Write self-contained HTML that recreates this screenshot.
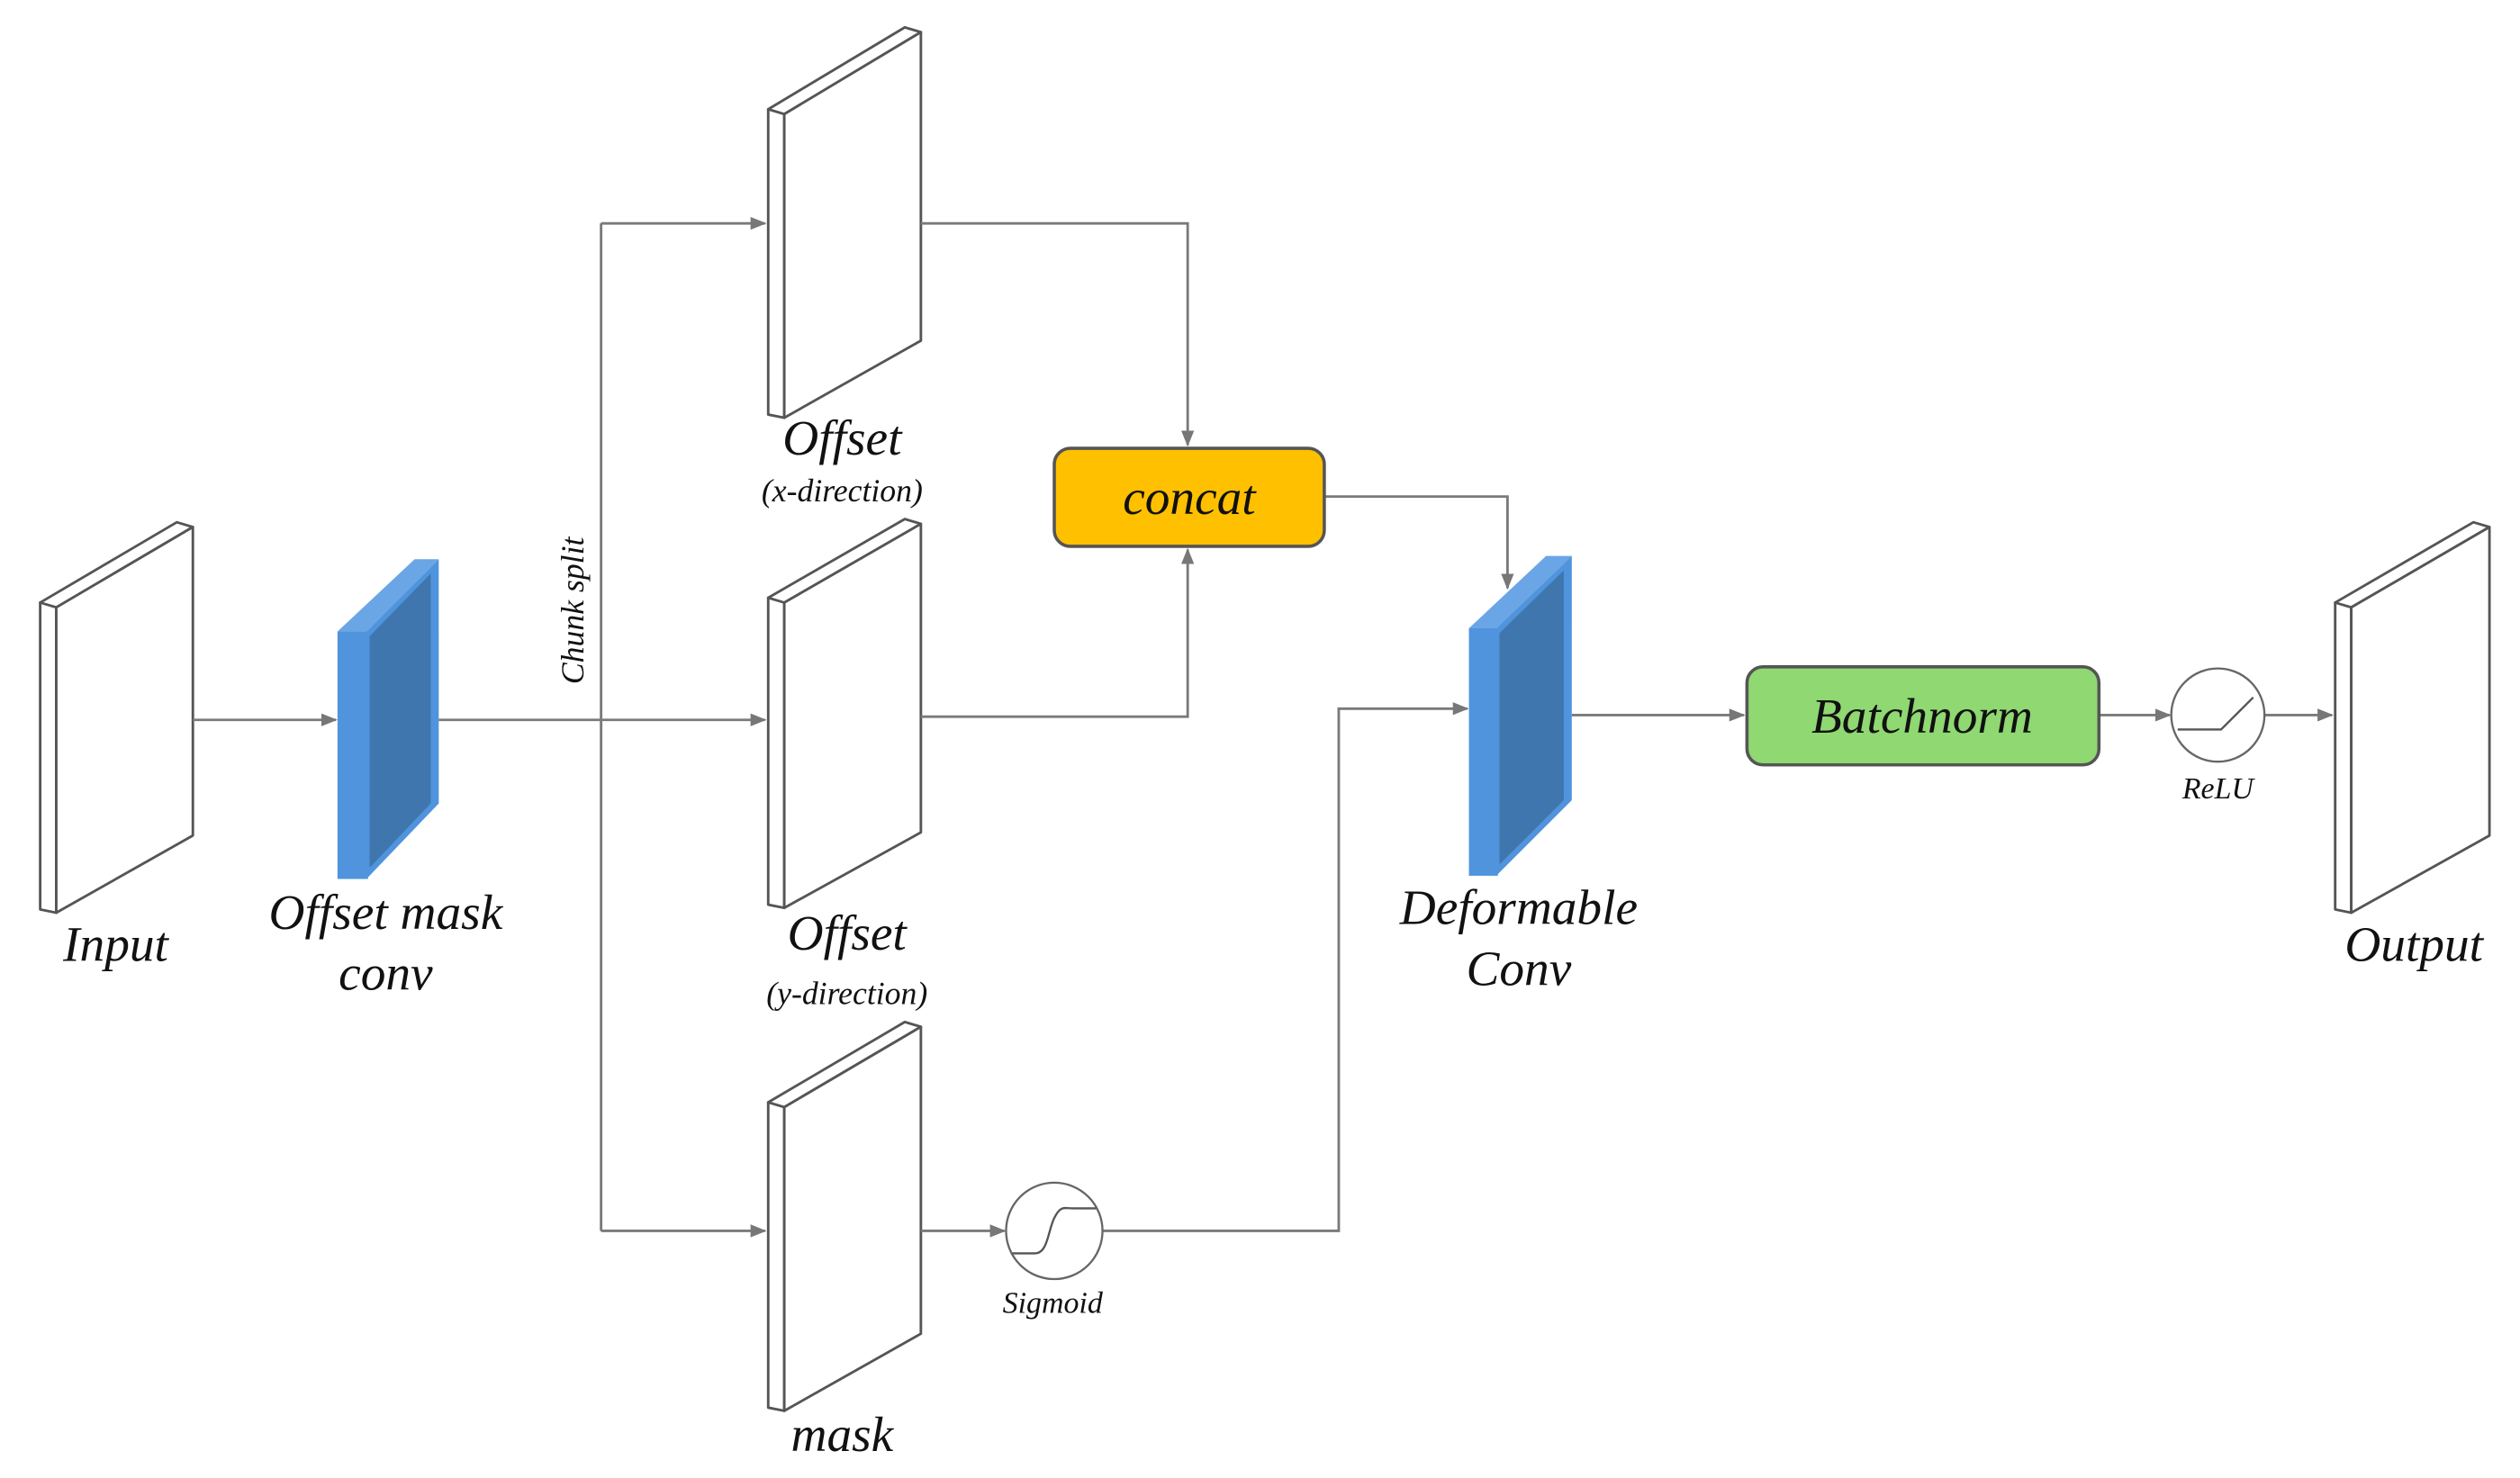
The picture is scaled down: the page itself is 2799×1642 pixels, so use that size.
<!DOCTYPE html>
<html><head><meta charset="utf-8"><style>html,body{margin:0;padding:0;background:#fff}svg{display:block}</style></head>
<body>
<svg width="2799" height="1642" viewBox="0 0 1568 919.8" preserveAspectRatio="none" xmlns="http://www.w3.org/2000/svg" font-family="Liberation Serif, serif" font-style="italic">
<defs>
<marker id="a" markerWidth="10" markerHeight="10" refX="9" refY="5" orient="auto" markerUnits="userSpaceOnUse">
<path d="M0,1 L10,5 L0,9 z" fill="#777"/></marker>
</defs>
<g fill="#fff" stroke="#555" stroke-width="1.6" stroke-linejoin="round">
<polygon points="25,375 35,375 35,568 25,566"/>
<polygon points="25,375 110,325 120,328 35,378"/>
<polygon points="35,378 120,328 120,520 35,568"/>
<polygon points="478,68 488,68 488,260 478,258"/>
<polygon points="478,68 563,17 573,20 488,71"/>
<polygon points="488,71 573,20 573,212 488,260"/>
<polygon points="478,372 488,372 488,565 478,563"/>
<polygon points="478,372 563,323 573,326 488,375"/>
<polygon points="488,375 573,326 573,518 488,565"/>
<polygon points="478,686 488,686 488,878 478,876"/>
<polygon points="478,686 563,636 573,639 488,689"/>
<polygon points="488,689 573,639 573,830 488,878"/>
<polygon points="1453,375 1463,375 1463,568 1453,566"/>
<polygon points="1453,375 1539,325 1549,328 1463,378"/>
<polygon points="1463,378 1549,328 1549,520 1463,568"/>
</g>
<g>
<polygon points="210,393 258,348 273,348 228,393" fill="#6aa6e6"/>
<rect x="210" y="393" width="19" height="154" fill="#4f94dc"/>
<polygon points="228,393 273,348 273,500 228,547" fill="#4f94dc"/>
<polygon points="230,396 268,357 268,500 230,540" fill="#3f76ad"/>
<polygon points="914,391 962,346 978,346 931,391" fill="#6aa6e6"/>
<rect x="914" y="391" width="18" height="154" fill="#4f94dc"/>
<polygon points="931,391 978,346 978,498 931,545" fill="#4f94dc"/>
<polygon points="933,394 973,355 973,498 933,538" fill="#3f76ad"/>
</g>
<g fill="none" stroke="#7a7a7a" stroke-width="1.6">
<line x1="120" y1="448" x2="209" y2="448" marker-end="url(#a)"/>
<line x1="273" y1="448" x2="476" y2="448" marker-end="url(#a)"/>
<line x1="374" y1="139" x2="374" y2="766"/>
<line x1="374" y1="139" x2="476" y2="139" marker-end="url(#a)"/>
<line x1="374" y1="766" x2="476" y2="766" marker-end="url(#a)"/>
<polyline points="573,139 739,139 739,277" marker-end="url(#a)"/>
<polyline points="573,446 739,446 739,342" marker-end="url(#a)"/>
<polyline points="824,309 938,309 938,366" marker-end="url(#a)"/>
<line x1="573" y1="766" x2="625" y2="766" marker-end="url(#a)"/>
<polyline points="686,766 833,766 833,441 913,441" marker-end="url(#a)"/>
<line x1="978" y1="445" x2="1085" y2="445" marker-end="url(#a)"/>
<line x1="1306" y1="445" x2="1350" y2="445" marker-end="url(#a)"/>
<line x1="1409" y1="445" x2="1451" y2="445" marker-end="url(#a)"/>
</g>
<circle cx="656" cy="766" r="30" fill="#fff" stroke="#666" stroke-width="1.3"/>
<path d="M630,780 L644,780 C652,780 652,766 656,758 C660,750 662,752 668,752 L682,752" fill="none" stroke="#555" stroke-width="1.3"/>
<circle cx="1380" cy="445" r="29" fill="#fff" stroke="#666" stroke-width="1.3"/>
<path d="M1355,454 L1382,454 L1402,434" fill="none" stroke="#555" stroke-width="1.3"/>
<rect x="656" y="279" width="168" height="61" rx="10" fill="#ffc000" stroke="#555" stroke-width="2"/>
<rect x="1087" y="415" width="219" height="61" rx="10" fill="#8fd872" stroke="#555" stroke-width="2"/>
<g fill="#111" text-anchor="middle" font-size="31">
<text x="740" y="320">concat</text>
<text x="1196" y="456">Batchnorm</text>
<text x="72" y="598">Input</text>
<text x="240" y="578">Offset mask</text>
<text x="240" y="616">conv</text>
<text x="524" y="283">Offset</text>
<text x="527" y="591">Offset</text>
<text x="524" y="903">mask</text>
<text x="945" y="575">Deformable</text>
<text x="945" y="613">Conv</text>
<text x="1502" y="598">Output</text>
<text x="524" y="312" font-size="20">(x-direction)</text>
<text x="527" y="625" font-size="20">(y-direction)</text>
<text x="655" y="817" font-size="19">Sigmoid</text>
<text x="1380" y="497" font-size="19">ReLU</text>
<text x="0" y="0" font-size="20" transform="translate(363,380) rotate(-90)">Chunk split</text>
</g>
</svg>
</body></html>
